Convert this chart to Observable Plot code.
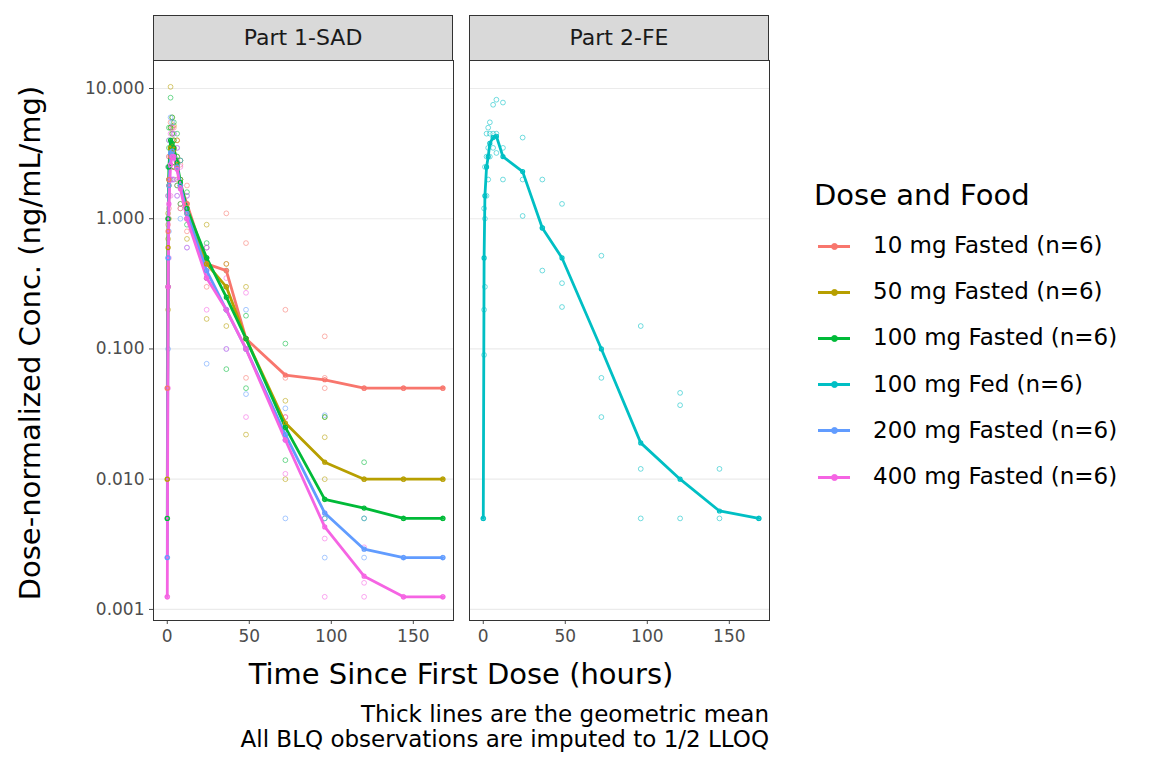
<!DOCTYPE html>
<html><head><meta charset="utf-8">
<script src="https://cdn.jsdelivr.net/npm/d3@7"></script>
<script src="https://cdn.jsdelivr.net/npm/@observablehq/plot@0.6"></script>
<style>
body{margin:0;font-family:"DejaVu Sans",sans-serif;background:#fff}
#wrap{position:relative;width:1152px;height:768px}
.strip{position:absolute;top:15px;height:44px;width:298px;background:#d9d9d9;border:1px solid #333;text-align:center;line-height:44px;font-size:22px;color:#1a1a1a}
.abs{position:absolute;white-space:nowrap;color:#000}
</style></head><body><div id="wrap"></div>
<script>
const groups=["10 mg Fasted (n=6)","50 mg Fasted (n=6)","100 mg Fasted (n=6)","100 mg Fed (n=6)","200 mg Fasted (n=6)","400 mg Fasted (n=6)"];
const colors=["#F8766D","#B79F00","#00BA38","#00BFC4","#619CFF","#F564E3"];
const panelOf=["Part 1-SAD","Part 1-SAD","Part 1-SAD","Part 2-FE","Part 1-SAD","Part 1-SAD"];
const times=[0,0.5,1,2,3,4,6,8,12,24,36,48,72,96,120,144,168];
const means=[
[0.05,0.8,2,3,3.3,3.5,2.5,1.8,1.3,0.45,0.4,0.12,0.063,0.058,0.05,0.05,0.05],
[0.01,0.6,1.8,3.5,3.6,3.4,2.6,1.8,1.1,0.45,0.3,0.12,0.027,0.0135,0.01,0.01,0.01],
[0.005,1,2.5,4,3.8,3.5,2.7,1.9,1.2,0.5,0.25,0.12,0.025,0.007,0.006,0.005,0.005],
[0.005,0.5,1.5,2.5,3,3.8,4.2,4.3,3.0,2.3,0.85,0.5,0.1,0.019,0.01,0.0057,0.005],
[0.0025,0.5,1.8,3.2,3.3,3,2.5,1.8,1.1,0.4,0.2,0.1,0.022,0.0055,0.0029,0.0025,0.0025],
[0.00125,0.3,1.3,2.6,3,3,2.4,1.7,1,0.35,0.2,0.1,0.02,0.0043,0.0018,0.00125,0.00125]];
const indiv=[
[[0.05],[0.3,0.9,1.5],[1.2,2.5,4],[2,3.5,5.5],[2.5,4,5],[2.5,3.5,5],[1.8,2.8,4],[1.3,2,2.6],[0.8,1.3,1.8],[0.3,0.5,0.6],[0.3,0.45,1.1],[0.06,0.12,0.65],[0.03,0.06,0.2],[0.05,0.06,0.125],[0.05],[0.05],[0.05]],
[[0.01],[0.2,0.7,1.1],[1,2,3],[3,5,10.3],[3,4.5,6],[2.5,4,5.2],[2,3,4],[1.2,2,2.8],[0.7,1,1.3],[0.17,0.35,0.9],[0.15,0.3,0.45],[0.022,0.1,0.3],[0.01,0.025,0.04],[0.01,0.021,0.03],[0.01],[0.01],[0.01]],
[[0.005],[0.3,1,2.5],[2,3.5,5],[3.5,5,8.5],[3,4.5,6],[2.5,4,5.5],[1.8,3,4.5],[1.3,2,2.8],[0.9,1.2,1.6],[0.35,0.5,0.65],[0.07,0.2,0.4],[0.05,0.12,0.18],[0.014,0.025,0.11],[0.005,0.007,0.03],[0.005,0.0135],[0.005],[0.005]],
[[0.005],[0.09,0.2,1.2],[0.3,1,2.5],[1.5,3,4.5],[2,3.5,5],[3,4.5,5.5],[3.5,4.5,7.5],[3.2,4.5,8.2],[2,3.5,7.8],[1.05,2,4.2],[0.4,0.85,2],[0.21,0.32,1.3],[0.03,0.06,0.52],[0.005,0.012,0.15],[0.005,0.037,0.046],[0.005,0.012],[0.005]],
[[0.0025],[0.1,0.5,1.5],[0.8,2.5,4],[2,4,6],[2,3.5,5.5],[2,3,4.5],[1.5,2.5,3.5],[1,1.8,2.8],[0.6,1,1.5],[0.077,0.4,0.6],[0.1,0.2,0.3],[0.045,0.1,0.2],[0.005,0.02,0.035],[0.0025,0.005,0.031],[0.0025,0.005],[0.0025],[0.0025]],
[[0.00125],[0.05,0.3,1],[0.5,1.5,3],[1.5,3,4.5],[2,3.2,5],[2,3,4.5],[1.5,2.5,3.5],[1.2,1.8,2.5],[0.6,1,1.5],[0.2,0.35,0.6],[0.1,0.2,0.35],[0.03,0.1,0.27],[0.011,0.02,0.03],[0.00125,0.0035,0.0055],[0.00125,0.0016,0.003],[0.00125],[0.00125]]];
const yTicks=[10,1,0.1,0.01,0.001];
const yTickLabels=["10.000","1.000","0.100","0.010","0.001"];

const meanRows=[],ptRows=[];
groups.forEach((g,i)=>{times.forEach((t,j)=>{meanRows.push({g,panel:panelOf[i],t,v:means[i][j]});
 indiv[i][j].forEach(v=>ptRows.push({g,panel:panelOf[i],t,v}));});});
const labelFor=d=>{const k=yTicks.findIndex(t=>Math.abs(t-d)/t<1e-6);return k>=0?yTickLabels[k]:"";};

const plot=Plot.plot({
 width:1152,height:768,marginLeft:153,marginRight:383,marginTop:60,marginBottom:148,
 style:{fontFamily:"DejaVu Sans",fontSize:"17px",color:"#4d4d4d"},
 fx:{domain:["Part 1-SAD","Part 2-FE"],paddingInner:16/308,paddingOuter:0,axis:null},
 x:{domain:[-8.4,174.5],ticks:[0,50,100,150],tickSize:4,label:null},
 y:{type:"log",domain:[10**-3.085,10**1.215],ticks:yTicks,tickFormat:labelFor,tickSize:4,label:null},
 color:{domain:groups,range:colors},
 marks:[
  Plot.gridY(yTicks,{stroke:"#ebebeb",strokeOpacity:1,strokeWidth:1.2}),
  Plot.dot(ptRows,{x:"t",y:"v",fx:"panel",stroke:"g",r:2.4,strokeWidth:1,strokeOpacity:0.55}),
  Plot.line(meanRows,{x:"t",y:"v",fx:"panel",stroke:"g",z:"g",strokeWidth:2.8}),
  Plot.dot(meanRows,{x:"t",y:"v",fx:"panel",stroke:"g",r:2,strokeWidth:1.2}),
  Plot.frame({stroke:"#333",strokeWidth:1})
 ]});
const wrap=document.getElementById("wrap");
wrap.appendChild(plot);
[["Part 1-SAD",153],["Part 2-FE",469]].forEach(([t,x])=>{const d=document.createElement("div");d.className="strip";d.style.left=x+"px";d.textContent=t;wrap.appendChild(d);});
function txt(s,style){const d=document.createElement("div");d.className="abs";d.textContent=s;Object.assign(d.style,style);wrap.appendChild(d);return d;}
txt("Time Since First Dose (hours)",{left:"461px",top:"657px",fontSize:"29px",transform:"translateX(-50%)"});
txt("Thick lines are the geometric mean",{right:"383px",top:"701px",fontSize:"23px"});
txt("All BLQ observations are imputed to 1/2 LLOQ",{right:"383px",top:"726px",fontSize:"23px"});
txt("Dose-normalized Conc. (ng/mL/mg)",{left:"30px",top:"343px",fontSize:"29px",transform:"translate(-50%,-50%) rotate(-90deg)"});
txt("Dose and Food",{left:"814px",top:"178px",fontSize:"29px"});
groups.forEach((g,i)=>{const y=246+i*46.2;
 const l=document.createElement("div");l.style.cssText=`position:absolute;left:818px;top:${y-1.5}px;width:32px;height:3px;background:${colors[i]}`;wrap.appendChild(l);
 const c=document.createElement("div");c.style.cssText=`position:absolute;left:831px;top:${y-3.5}px;width:5px;height:5px;border-radius:50%;border:1px solid ${colors[i]};background:${colors[i]}`;wrap.appendChild(c);
 txt(g,{left:"873px",top:(y-14)+"px",fontSize:"23px"});});
</script></body></html>
